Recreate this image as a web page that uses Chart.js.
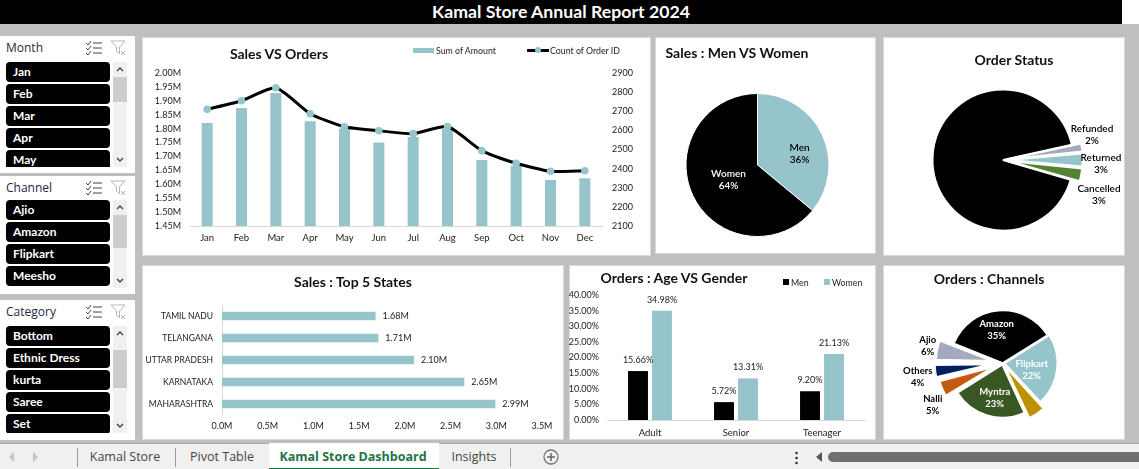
<!DOCTYPE html>
<html>
<head>
<meta charset="utf-8">
<title>Kamal Store Annual Report 2024</title>
<script src="https://cdn.jsdelivr.net/npm/chart.js@4"></script>
<style>
    html, body { margin: 0; padding: 0; width: 1139px; height: 469px; overflow: hidden; background: #bfbfbf; font-family: Lato, sans-serif; }
    .abs { position: absolute; }
    #topbar { left: 0; top: 0; width: 1122px; height: 24px; background: #000; color: #fff; font-weight: 700; font-size: 17.7px; line-height: 24px; text-align: center; }
    #topright { left: 1122px; top: 0; width: 17px; height: 24px; background: #fff; }
    .panel { background: #fff; box-sizing: border-box; border: 1px solid #d9d9d9; }
    .panel canvas { position: absolute; left: -1px; top: -1px; }
    .title { position: absolute; font-weight: 700; font-size: 14px; color: #111; white-space: nowrap; transform: translate(-50%, -50%); }
    .legend { position: absolute; font-size: 8.8px; color: #222; white-space: nowrap; transform: translateY(-50%); }
    .slicer { background: #fff; left: 0; overflow: hidden; }
    .slicer .head { position: absolute; left: 6px; top: 3px; font: 12px "Open Sans", sans-serif; color: #1f2a44; }
    .slicer .btn { position: absolute; left: 6px; width: 104px; height: 20px; background: #000; color: #fff; border-radius: 4px; font-weight: 700; font-size: 12px; line-height: 20px; text-indent: 7px; }
    .slicer .clip { position: absolute; left: 0; width: 135px; overflow: hidden; }
    .track { position: absolute; left: 113px; width: 14px; background: #f0f0f0; }
    .thumb { position: absolute; left: 0; width: 14px; background: #cdcdcd; }
    #tabs { left: 0; top: 443px; width: 1139px; height: 26px; background: #f0f0f0; border-top: 1px solid #a6a6a6; box-sizing: border-box; font: 12.5px "Open Sans", sans-serif; color: #444; }
    .tab { position: absolute; top: 0; line-height: 26px; white-space: nowrap; transform: translateX(-50%); }
    .sep { position: absolute; top: 4px; width: 1px; height: 19px; background: #9a9a9a; }
</style>
</head>
<body>
<div id="topbar" class="abs">Kamal Store Annual Report 2024</div>
<div id="topright" class="abs"></div>

<div id="slicers"></div>

<div class="abs panel" style="left:142px;top:37px;width:509px;height:219px">
    <canvas id="salesChart" width="509" height="219"></canvas>
    <div class="title" style="left:136px;top:15px">Sales VS Orders</div>
    <div class="abs" style="left:270px;top:10px;width:21px;height:5px;background:#95c4cb"></div>
    <div class="legend" style="left:293px;top:12px">Sum of Amount</div>
    <div class="abs" style="left:384px;top:11px;width:22px;height:3px;background:#000"></div>
    <div class="abs" style="left:392px;top:9px;width:6px;height:6px;border-radius:50%;background:#95c4cb"></div>
    <div class="legend" style="left:407px;top:12px">Count of Order ID</div>
</div>

<div class="abs panel" style="left:655px;top:37px;width:221px;height:217px">
    <canvas id="genderChart" width="221" height="217"></canvas>
    <div class="title" style="left:81px;top:14px">Sales : Men VS Women</div>
</div>

<div class="abs panel" style="left:883px;top:37px;width:242px;height:219px">
    <canvas id="statusChart" width="242" height="219"></canvas>
    <div class="title" style="left:130px;top:21px">Order Status</div>
</div>

<div class="abs panel" style="left:142px;top:265px;width:422px;height:175px">
    <canvas id="statesChart" width="422" height="175"></canvas>
    <div class="title" style="left:210px;top:15px">Sales : Top 5 States</div>
</div>

<div class="abs panel" style="left:569px;top:265px;width:307px;height:175px">
    <canvas id="ageChart" width="307" height="175"></canvas>
    <div class="title" style="left:104px;top:11px">Orders : Age VS Gender</div>
    <div class="abs" style="left:213px;top:13px;width:6px;height:6px;background:#000"></div>
    <div class="legend" style="left:221px;top:16px">Men</div>
    <div class="abs" style="left:254px;top:13px;width:6px;height:6px;background:#95c4cb"></div>
    <div class="legend" style="left:262px;top:16px">Women</div>
</div>

<div class="abs panel" style="left:883px;top:265px;width:242px;height:175px">
    <canvas id="channelChart" width="242" height="175"></canvas>
    <div class="title" style="left:105px;top:12px">Orders : Channels</div>
</div>

<div id="tabs" class="abs">
    <svg class="abs" style="left:8px;top:8px" width="32" height="10"><path d="M6 0 L1 5 L6 10 Z M25 0 L30 5 L25 10 Z" fill="#c4c4c4"/></svg>
    <div class="sep" style="left:77px"></div>
    <div class="tab" style="left:125px">Kamal Store</div>
    <div class="sep" style="left:175px"></div>
    <div class="tab" style="left:222px">Pivot Table</div>
    <div class="abs" style="left:269px;top:-1px;width:170px;height:25px;background:#fff;border-bottom:2px solid #217346;box-sizing:content-box"></div>
    <div class="tab" style="left:353px;color:#217346;font-weight:700">Kamal Store Dashboard</div>
    <div class="tab" style="left:474px">Insights</div>
    <div class="sep" style="left:510px"></div>
    <svg class="abs" style="left:543px;top:5px" width="16" height="16"><circle cx="8" cy="8" r="7" fill="none" stroke="#777" stroke-width="1.3"/><path d="M8 4 V12 M4 8 H12" stroke="#666" stroke-width="1.5"/></svg>
    <svg class="abs" style="left:794px;top:7px" width="5" height="14"><circle cx="2.5" cy="2" r="1.3" fill="#333"/><circle cx="2.5" cy="7" r="1.3" fill="#333"/><circle cx="2.5" cy="12" r="1.3" fill="#333"/></svg>
    <svg class="abs" style="left:815px;top:8px" width="8" height="10"><path d="M7 0 L1 5 L7 10 Z" fill="#555"/></svg>
    <div class="abs" style="left:828px;top:8px;width:311px;height:10px;background:#6f6f6f;border-radius:5px 0 0 5px"></div>
</div>

<script>
const months = ['Jan','Feb','Mar','Apr','May','Jun','Jul','Aug','Sep','Oct','Nov','Dec'];
const amountMillions = [1.82,1.874,1.928,1.827,1.80,1.75,1.77,1.80,1.687,1.666,1.615,1.622];
const orderCounts = [2710,2755,2823,2687,2619,2598,2583,2620,2494,2428,2386,2389];

const genderLabels = ['Men','Women'];
const genderShares = [36,64];

const statusLabels = ['Delivered','Refunded','Returned','Cancelled'];
const statusShares = [92,2,3,3];

const stateNames = ['TAMIL NADU','TELANGANA','UTTAR PRADESH','KARNATAKA','MAHARASHTRA'];
const stateSales = [1.68,1.71,2.10,2.65,2.99];

const ageGroups = ['Adult','Senior','Teenager'];
const menOrders = [15.66,5.72,9.20];
const womenOrders = [34.98,13.31,21.13];

const channelLabels = ['Amazon','Flipkart','Meesho','Myntra','Nalli','Others','Ajio'];
const channelShares = [35,22,5,23,5,4,6];

const sliceMonth = ['Jan','Feb','Mar','Apr','May'];
const sliceChannel = ['Ajio','Amazon','Flipkart','Meesho'];
const sliceCategory = ['Bottom','Ethnic Dress','kurta','Saree','Set'];

const TEAL = '#95c4cb';
const FONT = 'Lato, sans-serif';
const AXIS_LINE = '#d9d9d9';
const NO_GRID = { display: false, drawTicks: false };
const NUM_FONT = { size: 9 };

Chart.defaults.font.family = FONT;
Chart.defaults.font.size = 10;
Chart.defaults.color = '#1a1a1a';
Chart.defaults.animation = false;
Chart.defaults.responsive = false;
Chart.defaults.plugins.legend.display = false;
Chart.defaults.plugins.tooltip.enabled = false;

function addSlicer(name, items, top, height, firstBtn, clipBottom, thumbTop, thumbH) {
    const box = document.createElement('div');
    box.className = 'abs slicer';
    box.style.top = top + 'px';
    box.style.width = '135px';
    box.style.height = height + 'px';

    let html = '<div class="head">' + name + '</div>';
    html += '<svg class="abs" style="left:85px;top:4px" width="18" height="16" fill="none" stroke="#444" stroke-width="1">' +
        '<path d="M1 3 L3 5 L6 1 M1 8 L3 10 L6 6 M1 13 L3 15 L6 11 M8 3 H17 M8 8 H17 M8 13 H17"/></svg>';
    html += '<svg class="abs" style="left:110px;top:4px" width="17" height="16" fill="none" stroke="#b5b5b5" stroke-width="1">' +
        '<path d="M1 1 H15 L9.5 7 V14 L6.5 11 V7 Z M11 11 L15 15 M15 11 L11 15"/></svg>';
    html += '<div class="clip" style="top:0;height:' + clipBottom + 'px">';
    items.forEach(function (item, i) {
        html += '<div class="btn" style="top:' + (firstBtn + i * 22) + 'px">' + item + '</div>';
    });
    html += '</div>';
    const trackH = clipBottom - firstBtn;
    html += '<div class="track" style="top:' + firstBtn + 'px;height:' + trackH + 'px">' +
        '<div class="thumb" style="top:' + thumbTop + 'px;height:' + thumbH + 'px"></div>' +
        '<svg class="abs" style="left:3px;top:5px" width="8" height="5" fill="none" stroke="#444" stroke-width="1.4"><path d="M1 4 L4 1 L7 4"/></svg>' +
        '<svg class="abs" style="left:3px;top:' + (trackH - 10) + 'px" width="8" height="5" fill="none" stroke="#444" stroke-width="1.4"><path d="M1 1 L4 4 L7 1"/></svg>' +
        '</div>';
    box.innerHTML = html;
    document.getElementById('slicers').appendChild(box);
}

addSlicer('Month', sliceMonth, 36, 137, 26, 131, 15, 25);
addSlicer('Channel', sliceChannel, 176, 118, 24, 112, 15, 33);
addSlicer('Category', sliceCategory, 300, 140, 26, 133, 24, 38);

// small inline replacement for the datalabels plugin
function labelsPlugin(drawOne) {
    return {
        id: 'inlineLabels',
        afterDatasetsDraw(chart) {
            const ctx = chart.ctx;
            ctx.save();
            ctx.textBaseline = 'middle';
            chart.data.datasets.forEach(function (ds, d) {
                chart.getDatasetMeta(d).data.forEach(function (el, i) {
                    drawOne(ctx, el, ds.data[i], i, d, chart);
                });
            });
            ctx.restore();
        }
    };
}

function pieLabels(names, shifts, colors, font, hidden) {
    return labelsPlugin(function (ctx, el, v, i) {
        if (hidden && hidden.indexOf(i) >= 0) return;
        const s = shifts[i];
        const x = el.x + s[0], y = el.y + s[1];
        ctx.font = font;
        ctx.fillStyle = colors[i];
        ctx.textAlign = 'center';
        ctx.fillText(names[i], x, y - 6);
        ctx.fillText(v + '%', x, y + 6);
    });
}

function fixedWidth(w) { return function (s) { s.width = w; }; }
function fixedHeight(h) { return function (s) { s.height = h; }; }

// Sales VS Orders
new Chart(document.getElementById('salesChart'), {
    type: 'bar',
    data: {
        labels: months,
        datasets: [
            { type: 'line', yAxisID: 'y2', data: orderCounts, borderColor: '#000', borderWidth: 3, tension: 0.2,
              pointBackgroundColor: TEAL, pointBorderColor: TEAL, pointRadius: 2.3, order: 1 },
            { type: 'bar', yAxisID: 'y', data: amountMillions, backgroundColor: TEAL, categoryPercentage: 1, barPercentage: 0.32, order: 2 }
        ]
    },
    options: {
        layout: { padding: { top: 36 } },
        scales: {
            x: { grid: NO_GRID, border: { color: AXIS_LINE }, ticks: { padding: 6, maxRotation: 0, font: { size: 9.5 } }, afterFit: fixedHeight(30) },
            y: { position: 'left', min: 1.45, max: 2.0, grid: NO_GRID, border: { display: false },
                 ticks: { stepSize: 0.05, padding: 9, autoSkip: false, font: NUM_FONT, callback: v => v.toFixed(2) + 'M' }, afterFit: fixedWidth(48) },
            y2: { position: 'right', min: 2100, max: 2900, grid: NO_GRID, border: { display: false },
                  ticks: { stepSize: 100, padding: 10, autoSkip: false, font: NUM_FONT, callback: v => String(v) }, afterFit: fixedWidth(49) }
        }
    }
});

// Sales : Men VS Women
new Chart(document.getElementById('genderChart'), {
    type: 'pie',
    data: { labels: genderLabels, datasets: [{ data: genderShares, backgroundColor: [TEAL, '#000'], borderColor: '#fff', borderWidth: 1 }] },
    options: { layout: { padding: { left: 30.5, right: 46.5, top: 56, bottom: 17 } } },
    plugins: [pieLabels(genderLabels, [[42, -11], [-29, 15]], ['#000', '#fff'], '600 10px ' + FONT)]
});

// Order Status
new Chart(document.getElementById('statusChart'), {
    type: 'pie',
    data: {
        labels: statusLabels,
        datasets: [{
            data: statusShares,
            backgroundColor: ['#000', '#a5a9bd', TEAL, '#548235'],
            borderColor: '#fff', borderWidth: 2,
            offset: [0, 20, 20, 20]
        }]
    },
    options: { rotation: 106.2, layout: { padding: { left: 38.5, right: 40.5, top: 41.5, bottom: 14.5 } } },
    plugins: [pieLabels(statusLabels, [[0, 0], [89, -25], [98, 4], [96, 35]], ['#000', '#000', '#000', '#000'], '600 10px ' + FONT, [0])]
});

// Sales : Top 5 States
new Chart(document.getElementById('statesChart'), {
    type: 'bar',
    data: { labels: stateNames, datasets: [{ data: stateSales, backgroundColor: TEAL, categoryPercentage: 1, barPercentage: 0.38 }] },
    options: {
        indexAxis: 'y',
        layout: { padding: { top: 40, right: 22 } },
        scales: {
            x: { min: 0, max: 3.5, grid: NO_GRID, border: { display: false },
                 ticks: { stepSize: 0.5, padding: 6, font: NUM_FONT, callback: v => v.toFixed(1) + 'M' }, afterFit: fixedHeight(25) },
            y: { grid: NO_GRID, border: { color: AXIS_LINE }, ticks: { padding: 9, font: { size: 8.5 } }, afterFit: fixedWidth(80) }
        }
    },
    plugins: [labelsPlugin(function (ctx, el, v) {
        ctx.font = '9px ' + FONT;
        ctx.fillStyle = '#1a1a1a';
        ctx.textAlign = 'left';
        ctx.fillText(v.toFixed(2) + 'M', el.x + 7, el.y);
    })]
});

// Orders : Age VS Gender
new Chart(document.getElementById('ageChart'), {
    type: 'bar',
    data: {
        labels: ageGroups,
        datasets: [
            { data: menOrders, backgroundColor: '#000', categoryPercentage: 0.558, barPercentage: 0.83 },
            { data: womenOrders, backgroundColor: TEAL, categoryPercentage: 0.558, barPercentage: 0.83 }
        ]
    },
    options: {
        layout: { padding: { top: 30, right: 11 } },
        scales: {
            x: { grid: NO_GRID, border: { color: AXIS_LINE }, ticks: { padding: 7, font: { size: 9.5 } }, afterFit: fixedHeight(20) },
            y: { min: 0, max: 40, grid: NO_GRID, border: { display: false },
                 ticks: { stepSize: 5, padding: 8, font: NUM_FONT, callback: v => v.toFixed(2) + '%' }, afterFit: fixedWidth(38) }
        }
    },
    plugins: [labelsPlugin(function (ctx, el, v) {
        ctx.font = '9px ' + FONT;
        ctx.fillStyle = '#1a1a1a';
        ctx.textAlign = 'center';
        ctx.fillText(v.toFixed(2) + '%', el.x, el.y - 11);
    })]
});

// Orders : Channels
new Chart(document.getElementById('channelChart'), {
    type: 'pie',
    data: {
        labels: channelLabels,
        datasets: [{
            data: channelShares,
            backgroundColor: ['#000', TEAL, '#bf9000', '#385723', '#c55a11', '#002060', '#a5a9bd'],
            borderColor: '#fff',
            borderWidth: [1.5, 1.5, 1.5, 1.5, 2.5, 2.5, 2.5],
            offset: [0, 8, 20, 8, 32, 36, 36]
        }]
    },
    options: { rotation: -68, layout: { padding: { left: 48, right: 50.5, top: 26.25, bottom: 5.25 } } },
    plugins: [pieLabels(channelLabels,
        [[-6, -33], [29, 7], [0, 0], [-8, 35], [-70, 42], [-85, 14], [-75, -17]],
        ['#fff', '#fff', '#000', '#fff', '#000', '#000', '#000'], '700 9.5px ' + FONT, [2])]
});
</script>
</body>
</html>
